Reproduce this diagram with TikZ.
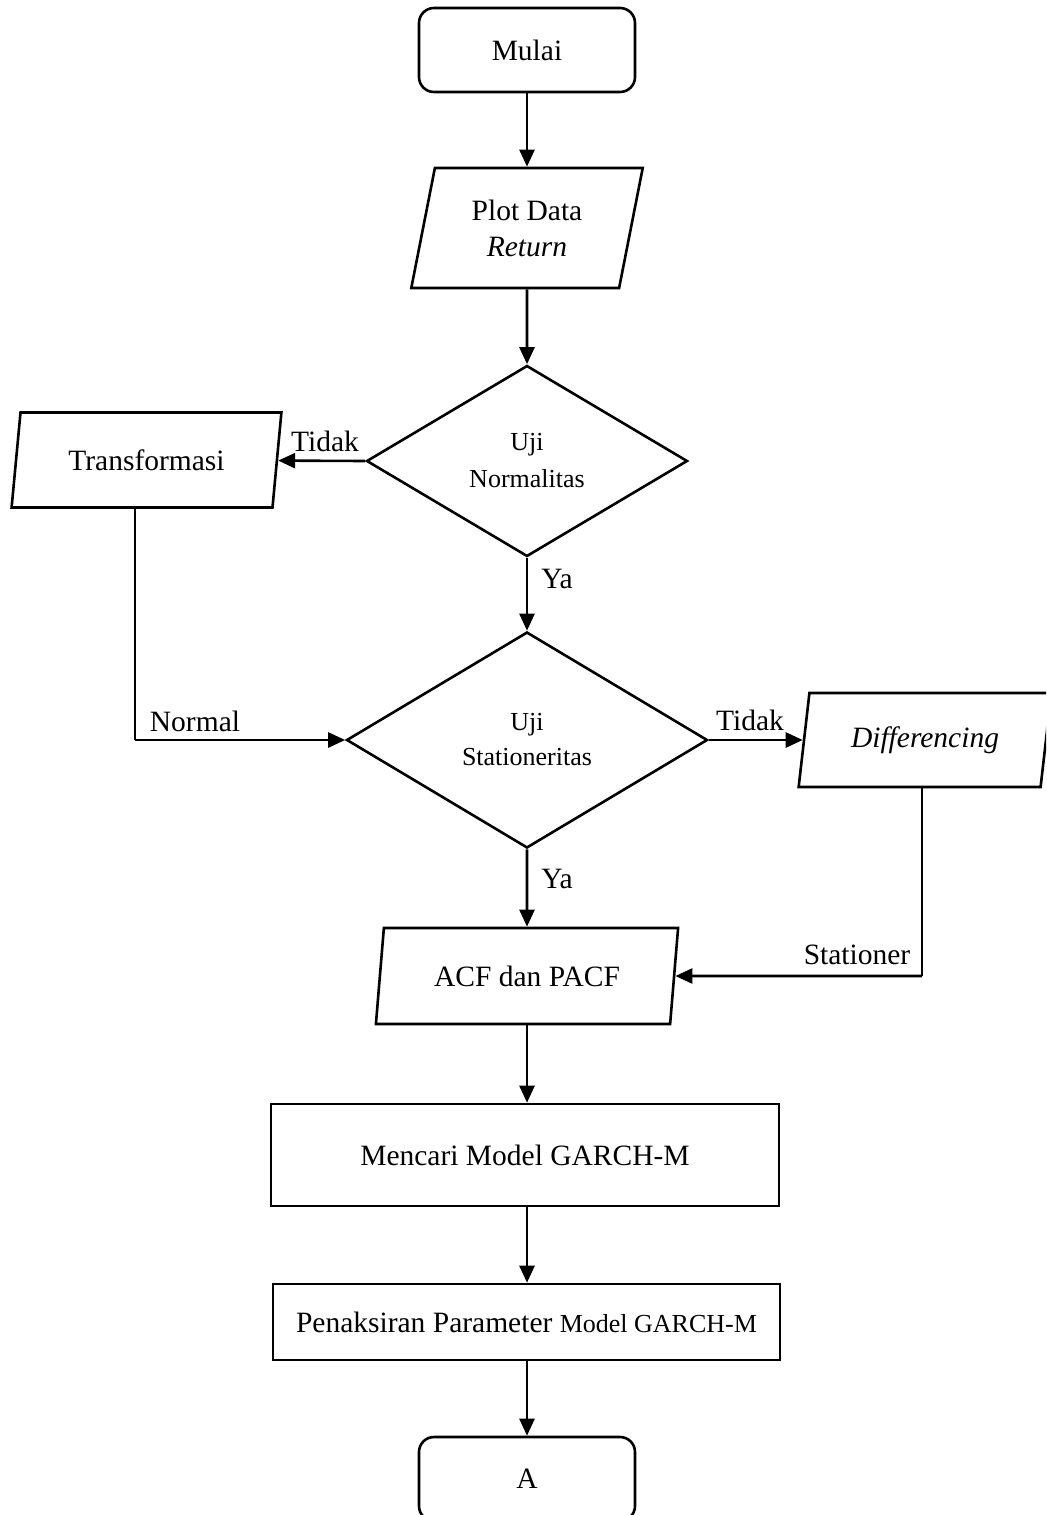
\documentclass[tikz,border=0pt]{standalone}
\usepackage{fontspec}
\setmainfont{Liberation Serif}
\usetikzlibrary{shapes.geometric,arrows.meta}
\newcommand{\mainsize}{\fontsize{14.75}{17}\selectfont}
\newcommand{\smallsize}{\fontsize{13}{16.5}\selectfont}
\tikzset{
  base/.style={draw, line width=1.3pt, inner sep=0pt, align=center, font=\mainsize},
  termbox/.style={base, rectangle, rounded corners=7.5pt, minimum width=108pt, minimum height=42pt},
  iobox/.style={base, trapezium, trapezium stretches=true, trapezium left angle=#1, trapezium right angle=180-#1},
  procbox/.style={base, rectangle},
  decbox/.style={base, diamond, font=\smallsize},
  lbl/.style={font=\mainsize, inner sep=0pt},
  conn/.style={line width=1.3pt, -{Triangle[length=8.5pt,width=7.5pt]}},
  plain/.style={line width=1.3pt}
}
\begin{document}
\begin{tikzpicture}[x=0.5pt, y=-0.5pt]
\useasboundingbox (0,0) rectangle (1046,1515);
\clip (0,0) rectangle (1046,1515);

\node[termbox] (start) at (527,50) {Mulai};
\node[iobox=76, minimum width=116.5pt, minimum height=60pt] (plot) at (527,228) {Plot Data\\[1pt]\textit{Return}};
\node[decbox, minimum width=160.5pt, minimum height=95.5pt] (d1) at (527,461) {Uji\\[2pt]Normalitas};
\node[iobox=75.3, minimum width=135.5pt, minimum height=47.5pt] (trans) at (146.5,460) {Transformasi};
\node[decbox, minimum width=180.5pt, minimum height=108pt] (d2) at (527,740) {Uji\\[1pt]Stationeritas};
\node[iobox=75.7, minimum width=127pt, minimum height=47pt] (diff) at (925,740) {\textit{Differencing}};
\node[iobox=76, minimum width=152.5pt, minimum height=48pt] (acf) at (527,976) {ACF dan PACF};
\node[procbox, minimum width=254pt, minimum height=51pt] (mencari) at (525,1155) {Mencari Model GARCH-M};
\node[procbox, minimum width=253.5pt, minimum height=38pt] (penaksiran) at (526.5,1322) {Penaksiran Parameter {\smallsize Model GARCH-M}};
\node[termbox] (akhir) at (527,1479) {A};

\coordinate (c1) at (135,740);
\coordinate (c2) at (922,976);

\draw[conn] (start) -- (plot);
\draw[conn] (plot) -- (d1);
\draw[conn] (d1.west) -- (trans);
\draw[conn] (d1.south) -- (d2.north);
\draw[plain] (trans.south -| c1) -- (c1);
\draw[conn] (c1) -- (d2.west);
\draw[conn] (d2.east) -- (diff);
\draw[conn] (d2.south) -- (acf);
\draw[plain] (diff.south -| c2) -- (c2);
\draw[conn] (c2) -- (acf);
\draw[conn] (acf.south) -- (acf.south |- mencari.north);
\draw[conn] (mencari.south -| acf.south) -- (acf.south |- penaksiran.north);
\draw[conn] (penaksiran.south -| akhir.north) -- (akhir.north);

\node[lbl] (l1) at (325,441) {Tidak};
\node[lbl] (l2) at (557,579) {Ya};
\node[lbl] (l3) at (195,721) {Normal};
\node[lbl] (l4) at (750,720) {Tidak};
\node[lbl] (l5) at (557,879) {Ya};
\node[lbl] (l6) at (857,955) {Stationer};
\end{tikzpicture}
\end{document}
